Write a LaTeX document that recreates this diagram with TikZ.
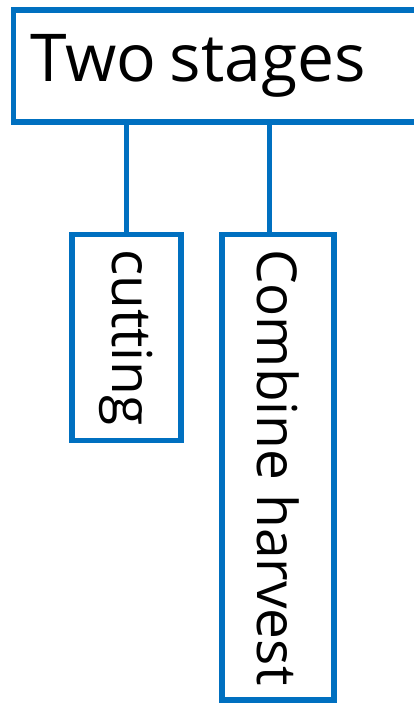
\documentclass[tikz,border=0pt]{standalone}
\usepackage{fontspec}
\setmainfont{Open Sans}
\usetikzlibrary{calc}
\definecolor{boxblue}{RGB}{0,112,192}
\begin{document}
\begin{tikzpicture}[x=1pt,y=-1pt,
  box/.style={draw=boxblue, line width=5.5pt, inner sep=0pt, fill=white},
  link/.style={draw=boxblue, line width=5.5pt},
  titlefont/.style={font=\fontsize{66}{72}\selectfont},
  childfont/.style={font=\fontsize{55}{60}\selectfont}]
\useasboundingbox (0,0) rectangle (413,706);
\node[box, titlefont, anchor=north west, inner xsep=17pt, text width=400pt,
      minimum height=111.5pt, align=left] (top) at (10.5,7.5) {Two\hspace{0.2em}stages};
\node[box, childfont, minimum width=109pt, minimum height=206pt] (cut) at (126.5,337.5) {\rotatebox{-90}{cutting}};
\node[box, childfont, minimum width=112pt, minimum height=465.5pt] (comb) at (278,467.25) {\rotatebox{-90}{Combine harvest}};
\draw[link] (cut.north) -- (cut.north |- top.south);
\draw[link] ($(comb.north west)!0.4286!(comb.north east)$) coordinate (c2) -- (c2 |- top.south);
\end{tikzpicture}
\end{document}
